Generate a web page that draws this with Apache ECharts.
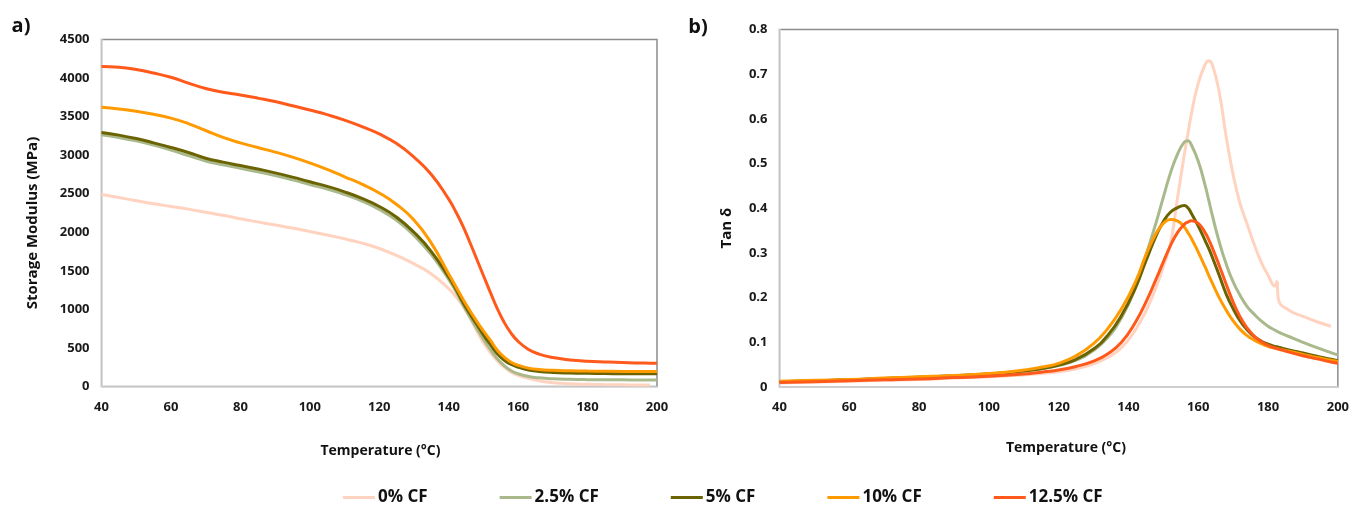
<!DOCTYPE html>
<html>
<head>
<meta charset="utf-8">
<script src="https://cdn.jsdelivr.net/npm/echarts@6/dist/echarts.min.js"></script>
<style>
html,body{margin:0;padding:0;background:#fff;}
#c{width:1352px;height:509px;}
</style>
</head>
<body>
<div id="c"></div>
<script>
// ---------- DATA ----------
const seriesNames = ['0% CF', '2.5% CF', '5% CF', '10% CF', '12.5% CF'];
const xTicks = [40, 60, 80, 100, 120, 140, 160, 180, 200];

// Panel a) Storage modulus (MPa)
const tempA = [40,45,50,55,60,65,70,75,80,85,90,95,100,105,110,115,120,125,130,135,140,142,144,146,148,150,152,154,156,158,160,163,166,170,175,180,185,190,195,198,200];
const modulus0   = [2490,2450,2410,2370,2335,2300,2260,2220,2175,2135,2095,2055,2010,1965,1915,1860,1790,1700,1590,1460,1270,1170,1050,900,730,570,440,335,250,185,145,105,75,50,35,28,24,22,20,20,null];
const modulus25  = [3265,3230,3185,3130,3065,2995,2925,2875,2830,2785,2735,2680,2620,2560,2490,2405,2295,2155,1960,1710,1390,1240,1070,910,760,615,480,360,270,205,165,130,112,100,93,89,87,86,85,84,84];
const modulus5   = [3295,3260,3215,3160,3100,3035,2960,2910,2865,2820,2770,2715,2655,2595,2525,2440,2335,2195,2000,1750,1420,1270,1100,950,810,670,545,425,340,285,250,215,195,182,175,171,168,166,165,164,164];
const modulus10  = [3620,3600,3570,3530,3480,3410,3320,3230,3160,3100,3040,2975,2900,2815,2720,2625,2510,2360,2160,1860,1460,1300,1140,990,850,720,600,470,380,315,275,238,220,210,204,200,198,196,195,195,195];
const modulus125 = [4150,4140,4110,4065,4010,3935,3865,3815,3780,3740,3695,3640,3585,3525,3455,3370,3275,3150,2975,2750,2430,2270,2090,1880,1660,1440,1220,1010,830,690,585,480,420,375,345,328,318,310,305,303,302];

// Panel b) Tan delta
const tempB = [40,50,60,70,80,90,100,110,115,120,125,130,134,138,142,145,148,150,152,154,156,157,158,160,162,163,164,166,168,170,172,174,176,178,180,182,182.5,183,186,190,194,198,200];
const tan0   = [0.009,0.011,0.013,0.015,0.017,0.020,0.023,0.027,0.030,0.034,0.041,0.052,0.066,0.088,0.128,0.170,0.225,0.270,0.320,0.420,0.520,0.565,0.610,0.680,0.722,0.730,0.722,0.660,0.560,0.475,0.410,0.365,0.320,0.280,0.250,0.226,0.236,0.195,0.172,0.158,0.146,0.136,null];
const tan25  = [0.012,0.014,0.016,0.019,0.022,0.025,0.029,0.036,0.041,0.048,0.060,0.082,0.110,0.155,0.222,0.295,0.370,0.425,0.478,0.520,0.548,0.551,0.542,0.505,0.450,0.418,0.385,0.325,0.275,0.235,0.205,0.180,0.163,0.148,0.136,0.127,0.125,0.123,0.113,0.100,0.088,0.077,0.072];
const tan5   = [0.012,0.014,0.016,0.019,0.022,0.025,0.029,0.036,0.041,0.049,0.062,0.085,0.115,0.160,0.222,0.282,0.340,0.370,0.391,0.401,0.406,0.401,0.389,0.360,0.327,0.310,0.291,0.250,0.208,0.175,0.148,0.128,0.113,0.103,0.096,0.091,0.090,0.089,0.083,0.076,0.069,0.062,0.059];
const tan10  = [0.013,0.015,0.017,0.020,0.023,0.026,0.030,0.038,0.044,0.053,0.070,0.097,0.130,0.175,0.235,0.295,0.345,0.366,0.375,0.372,0.358,0.346,0.333,0.302,0.268,0.250,0.233,0.200,0.172,0.148,0.129,0.115,0.105,0.097,0.091,0.087,0.086,0.085,0.080,0.073,0.066,0.060,0.057];
const tan125 = [0.010,0.012,0.014,0.016,0.018,0.021,0.024,0.029,0.033,0.038,0.046,0.058,0.074,0.100,0.145,0.190,0.243,0.280,0.316,0.345,0.364,0.369,0.372,0.366,0.345,0.330,0.312,0.272,0.230,0.190,0.157,0.132,0.114,0.102,0.093,0.087,0.086,0.085,0.078,0.070,0.063,0.056,0.053];

// ---------- STYLE ----------
const colors = ['#FFD3BF', '#A9B98B', '#6B6300', '#FF9A00', '#FF5A1C'];
const FONT = '"Open Sans", "DejaVu Sans", sans-serif';

function pairs(xs, ys) {
  const out = [];
  xs.forEach((x, i) => { if (ys[i] !== null && ys[i] !== undefined) out.push([x, ys[i]]); });
  return out;
}

const modA = [modulus0, modulus25, modulus5, modulus10, modulus125];
const tanB = [tan0, tan25, tan5, tan10, tan125];

const axisLabelStyle = { color: '#1a1a1a', fontFamily: FONT, fontWeight: 'bold', fontSize: 13 };

function xAxisFor(gridIndex) {
  return {
    type: 'value', gridIndex: gridIndex, min: 40, max: 200, interval: 20,
    axisLine: { show: true, lineStyle: { color: '#d9d9d9', width: 1.5 } },
    axisTick: { show: false },
    splitLine: { show: false },
    axisLabel: Object.assign({ margin: 14, formatter: v => String(v) }, axisLabelStyle)
  };
}

const series = [];
seriesNames.forEach((name, i) => {
  series.push({
    name: name, type: 'line', xAxisIndex: 0, yAxisIndex: 0,
    data: pairs(tempA, modA[i]), smooth: 0.5,
    showSymbol: false, symbol: 'none',
    lineStyle: { color: colors[i], width: 3 }, itemStyle: { color: colors[i] },
    z: 2 + i
  });
});
seriesNames.forEach((name, i) => {
  series.push({
    name: name, type: 'line', xAxisIndex: 1, yAxisIndex: 1,
    data: pairs(tempB, tanB[i]), smooth: 0.5,
    showSymbol: false, symbol: 'none',
    lineStyle: { color: colors[i], width: 3 }, itemStyle: { color: colors[i] },
    z: 2 + i
  });
});

const titleFont = 'bold 15px ' + FONT;

const option = {
  backgroundColor: '#ffffff',
  animation: false,
  grid: [
    { left: 101.5, top: 39.5, width: 555.5, height: 347, show: true, borderColor: '#8c8c8c', borderWidth: 1.5, backgroundColor: 'transparent' },
    { left: 779.5, top: 29.5, width: 561.5, height: 357.5, show: true, borderColor: '#8c8c8c', borderWidth: 1.5, backgroundColor: 'transparent' }
  ],
  xAxis: [xAxisFor(0), xAxisFor(1)],
  yAxis: [
    {
      type: 'value', gridIndex: 0, min: 0, max: 4500, interval: 500,
      axisLine: { show: true, lineStyle: { color: '#d9d9d9', width: 1.5 } },
      axisTick: { show: false }, splitLine: { show: false },
      axisLabel: Object.assign({ margin: 12, formatter: v => String(Math.round(v)) }, axisLabelStyle)
    },
    {
      type: 'value', gridIndex: 1, min: 0, max: 0.8, interval: 0.1,
      axisLine: { show: true, lineStyle: { color: '#d9d9d9', width: 1.5 } },
      axisTick: { show: false }, splitLine: { show: false },
      axisLabel: Object.assign({ margin: 12, formatter: v => (Math.abs(v) < 1e-9 ? '0' : v.toFixed(1)) }, axisLabelStyle)
    }
  ],
  legend: {
    data: seriesNames,
    left: 338, top: 484,
    icon: 'rect', itemWidth: 32, itemHeight: 3, itemGap: 72,
    textStyle: { color: '#111', fontFamily: FONT, fontWeight: 'bold', fontSize: 17, padding: [0, 0, 0, -2] }
  },
  graphic: [
    { type: 'text', x: 21, y: 26, style: { text: 'a)', font: 'bold 20px ' + FONT, fill: '#111', align: 'center', verticalAlign: 'middle' } },
    { type: 'text', x: 698, y: 27, style: { text: 'b)', font: 'bold 20px ' + FONT, fill: '#111', align: 'center', verticalAlign: 'middle' } },
    { type: 'text', x: 33, y: 223, rotation: Math.PI / 2, style: { text: 'Storage Modulus (MPa)', font: titleFont, fill: '#111', align: 'center', verticalAlign: 'middle' } },
    { type: 'text', x: 727, y: 228, rotation: Math.PI / 2, style: { text: 'Tan δ', font: titleFont, fill: '#111', align: 'center', verticalAlign: 'middle' } },
    { type: 'text', x: 380.5, y: 451.5, style: { text: 'Temperature (°C)', font: 'bold 14px ' + FONT, fill: '#111', align: 'center', verticalAlign: 'middle' } },
    { type: 'text', x: 1066, y: 448, style: { text: 'Temperature (°C)', font: 'bold 14px ' + FONT, fill: '#111', align: 'center', verticalAlign: 'middle' } }
  ],
  series: series
};

const chart = echarts.init(document.getElementById('c'), null, { renderer: 'canvas' });
chart.setOption(option);
</script>
</body>
</html>
